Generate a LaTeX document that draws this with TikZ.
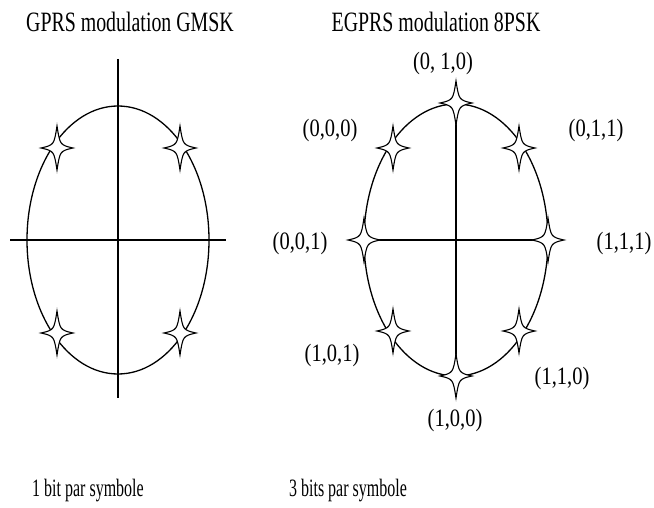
\documentclass[tikz,border=0pt]{standalone}
\usepackage{fontspec}
\setmainfont{Liberation Serif}
\newfontfamily\titlefont[FakeStretch=0.71]{Liberation Serif}
\newfontfamily\labelfont[FakeStretch=0.82]{Liberation Serif}
\newfontfamily\footfont[FakeStretch=0.64]{Liberation Serif}

\begin{document}
\begin{tikzpicture}[
    x=1pt, y=-1pt,
    axis/.style={line width=1.1pt, color=black},
    orbit/.style={line width=1.3pt, color=black},
    title/.style={font=\titlefont\fontsize{28}{30}\selectfont, inner sep=0pt},
    bits/.style={font=\labelfont\fontsize{25}{27}\selectfont, inner sep=0pt},
    foot/.style={font=\footfont\fontsize{25}{27}\selectfont, inner sep=0pt},
    spark/.pic={\draw[line width=1.1pt, fill=white] (0,-22) .. controls (3,-3) .. (16,0) .. controls (3,3) .. (0,22) .. controls (-3,3) .. (-16,0) .. controls (-3,-3) .. cycle;}
]
    \useasboundingbox (0,0) rectangle (654,508);

    % GMSK
    \node[title] (gmsk) at (130, 22) {GPRS modulation GMSK};
    \coordinate (gtop) at (118, 59);
    \coordinate (gbot) at (118, 398);
    \coordinate (gleft) at (10, 240);
    \coordinate (gright) at (226, 240);
    \draw[axis] (gtop) -- (gbot);
    \draw[axis] (gleft) -- (gright);
    \draw[orbit] (118, 240) ellipse (91 and 134);
    \coordinate (g1) at (57, 148);
    \coordinate (g2) at (180, 148);
    \coordinate (g3) at (57, 333);
    \coordinate (g4) at (180, 333);
    \foreach \p in {g1, g2, g3, g4}
        \pic at (\p) {spark};
    \node[foot] (gbits) at (88, 491) {1 bit par symbole};

    % 8PSK
    \node[title] (psk) at (436, 22) {EGPRS modulation 8PSK};
    \coordinate (p010) at (456, 103);
    \coordinate (p000) at (393, 148);
    \coordinate (p011) at (519, 148);
    \coordinate (p001) at (364, 240);
    \coordinate (p111) at (548, 240);
    \coordinate (p101) at (393, 331);
    \coordinate (p110) at (519, 331);
    \coordinate (p100) at (456, 376);
    \draw[axis] (p010) -- (p100);
    \draw[axis] (p001) -- (p111);
    \draw[orbit] (456, 240) ellipse (92 and 136);
    \foreach \p in {p010, p000, p011, p001, p111, p101, p110, p100}
        \pic at (\p) {spark};

    \node[bits] (l010) at (443, 63)  {(0, 1,0)};
    \node[bits] (l000) at (330, 130) {(0,0,0)};
    \node[bits] (l011) at (596, 130) {(0,1,1)};
    \node[bits] (l001) at (300, 243) {(0,0,1)};
    \node[bits] (l111) at (624, 243) {(1,1,1)};
    \node[bits] (l101) at (332, 355) {(1,0,1)};
    \node[bits] (l110) at (562, 378) {(1,1,0)};
    \node[bits] (l100) at (455, 420) {(1,0,0)};
    \node[foot] (pbits) at (348, 491) {3 bits par symbole};
\end{tikzpicture}
\end{document}
